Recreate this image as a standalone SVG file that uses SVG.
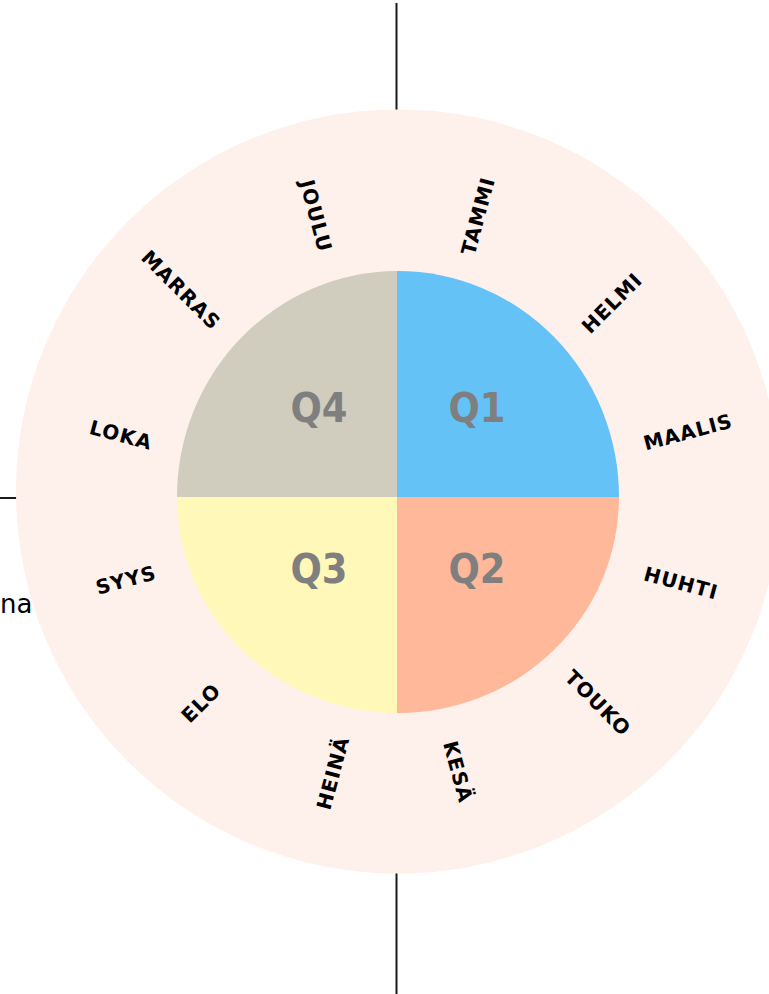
<svg xmlns="http://www.w3.org/2000/svg" width="769" height="994" viewBox="0 0 769 994">
<style>
.m{font-family:"DejaVu Sans","Noto Sans",sans-serif;font-weight:bold;font-size:20px;letter-spacing:1px;fill:#000;text-anchor:middle;dominant-baseline:central}
.q{font-family:"DejaVu Sans Condensed","DejaVu Sans",sans-serif;font-stretch:condensed;font-weight:bold;font-size:41px;fill:#7f7f7f;text-anchor:middle}
.ln{stroke:#1a1a1a;stroke-width:2;fill:none}
</style>
<rect width="769" height="994" fill="#fff"/>
<g id="connectors">
<line class="ln" x1="396.5" y1="3" x2="396.5" y2="994"/>
<line class="ln" x1="0" y1="498" x2="769" y2="498"/>
</g>
<text x="0" y="613" font-family="DejaVu Sans,sans-serif" font-size="26" fill="#000">na</text>
<g id="ring"><circle cx="398" cy="491.5" r="382" fill="#fef0eb"/></g>
<g id="Q1"><path d="M397,497 L397,271 A221,226 0 0 1 619,497 Z" fill="#64c2f7"/><text class="q" x="477" y="422">Q1</text></g>
<g id="Q2"><path d="M397,497 L619,497 A221,216 0 0 1 397,713 Z" fill="#ffb899"/><text class="q" x="477" y="583">Q2</text></g>
<g id="Q3"><path d="M397,497 L397,713 A221,216 0 0 1 177,497 Z" fill="#fff8b8"/><text class="q" x="319" y="583">Q3</text></g>
<g id="Q4"><path d="M397,497 L177,497 A221,226 0 0 1 397,271 Z" fill="#d0ccbe"/><text class="q" x="319" y="422">Q4</text></g>
<g id="months">
<g id="tammi"><text class="m" transform="translate(478,216) rotate(-75)">TAMMI</text></g>
<g id="helmi"><text class="m" transform="translate(612,303) rotate(-45)">HELMI</text></g>
<g id="maalis"><text class="m" transform="translate(688,432) rotate(-15)">MAALIS</text></g>
<g id="huhti"><text class="m" transform="translate(681,583) rotate(15)">HUHTI</text></g>
<g id="touko"><text class="m" transform="translate(598,703) rotate(45)">TOUKO</text></g>
<g id="kesa"><text class="m" transform="translate(458,772) rotate(75)">KESÄ</text></g>
<g id="heina"><text class="m" transform="translate(333,773) rotate(-75)">HEINÄ</text></g>
<g id="elo"><text class="m" transform="translate(201,703) rotate(-45)">ELO</text></g>
<g id="syys"><text class="m" transform="translate(126,580) rotate(-15)">SYYS</text></g>
<g id="loka"><text class="m" transform="translate(121,435) rotate(15)">LOKA</text></g>
<g id="marras"><text class="m" transform="translate(181,290) rotate(45)">MARRAS</text></g>
<g id="joulu"><text class="m" transform="translate(316,216) rotate(75)">JOULU</text></g>
</g>
</svg>
